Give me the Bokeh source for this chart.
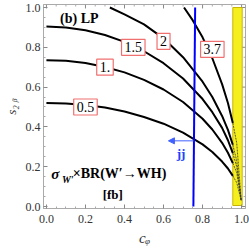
import numpy as np
from bokeh.plotting import figure
from bokeh.models import (Label, Arrow, NormalHead, Range1d, FixedTicker,
                          PrintfTickFormatter)
from bokeh.embed import file_html
from bokeh.resources import INLINE

# ---- data ----
c_grid = [0.0, 0.1, 0.2, 0.3, 0.4, 0.5, 0.6, 0.7, 0.8, 0.85, 0.9, 0.93, 0.955]
s_05 = [0.52, 0.518, 0.51, 0.497, 0.477, 0.45, 0.416, 0.371, 0.312, 0.274, 0.226, 0.191, 0.154]
s_10 = [0.735, 0.732, 0.721, 0.701, 0.674, 0.636, 0.588, 0.525, 0.441, 0.387, 0.32, 0.27, 0.218]
s_15 = [0.905, 0.9, 0.886, 0.862, 0.827, 0.78, 0.72, 0.643, 0.54, 0.474, 0.395, 0.333, 0.268]
c_20 = [0.325, 0.4, 0.5, 0.6, 0.7, 0.8, 0.85, 0.9, 0.93, 0.955]
s_20 = [1.0, 0.965, 0.915, 0.845, 0.75, 0.627, 0.55, 0.455, 0.385, 0.31]
c_37 = [0.705, 0.75, 0.8, 0.85, 0.9, 0.93, 0.955]
s_37 = [1.0, 0.935, 0.85, 0.745, 0.615, 0.52, 0.42]

# continuation inside the excluded (yellow) band
c_band = [0.955, 0.975, 0.998]
s_band_05 = [0.154, 0.12, 0.03]
s_band_10 = [0.218, 0.17, 0.03]
s_band_15 = [0.268, 0.2, 0.03]
s_band_20 = [0.31, 0.23, 0.03]
s_band_37 = [0.42, 0.32, 0.03]

# contour labels: value, c, s
label_texts = ["0.5", "1.", "1.5", "2", "3.7"]
label_c = [0.20, 0.30, 0.445, 0.60, 0.85]
label_s = [0.50, 0.70, 0.80, 0.83, 0.79]

# dijet bound (blue) and arrow
blue_c = [0.753, 0.762]
blue_s = [0.0, 1.0]
arrow_c = [0.755, 0.625]
arrow_s = 0.33

# excluded band
band_left, band_right, band_bottom, band_top = 0.955, 1.003, 0.005, 1.0

ticks = [0.0, 0.2, 0.4, 0.6, 0.8, 1.0]
minor = [0.05, 0.1, 0.15, 0.25, 0.3, 0.35, 0.45, 0.5, 0.55, 0.65, 0.7, 0.75, 0.85, 0.9, 0.95]

X0, X1 = -0.015, 1.02
Y0, Y1 = -0.01, 1.015

SERIF = "Liberation Serif"

p = figure(width=249, height=249, output_backend="svg", toolbar_location=None,
           x_range=Range1d(X0, X1), y_range=Range1d(Y0, Y1),
           min_border_left=40, min_border_right=4, min_border_top=4, min_border_bottom=41)
p.grid.visible = False
p.outline_line_color = "#aaaaaa"
p.background_fill_color = "white"
p.border_fill_color = "white"

for ax in [p.xaxis[0], p.yaxis[0]]:
    ax.ticker = FixedTicker(ticks=ticks, minor_ticks=minor)
    ax.formatter = PrintfTickFormatter(format="%.1f")
    ax.major_tick_in = 4
    ax.major_tick_out = 0
    ax.minor_tick_in = 2
    ax.minor_tick_out = 0
    ax.axis_line_color = "#aaaaaa"
    ax.major_tick_line_color = "#888888"
    ax.minor_tick_line_color = "#aaaaaa"
    ax.major_label_text_font = SERIF
    ax.major_label_text_font_size = "12px"
    ax.major_label_text_color = "#333333"
    ax.axis_label_text_font = SERIF
    ax.axis_label_text_font_style = "italic"
    ax.axis_label_text_color = "#333333"
p.xaxis[0].major_label_standoff = 6
p.yaxis[0].major_label_standoff = 3
p.xaxis[0].axis_label = "cᵩ"
p.xaxis[0].axis_label_text_font_size = "15px"
p.xaxis[0].axis_label_standoff = 4
p.yaxis[0].axis_label = "s₂ ᵦ"
p.yaxis[0].axis_label_text_font_size = "13px"
p.yaxis[0].axis_label_standoff = 4

# tick marks on the top and right frame edges (from the tick lists)
n, m = len(ticks), len(minor)
p.segment(x0=ticks, y0=[Y1] * n, x1=ticks, y1=[Y1 - 0.02] * n, line_color="#888888", line_width=1)
p.segment(x0=minor, y0=[Y1] * m, x1=minor, y1=[Y1 - 0.01] * m, line_color="#aaaaaa", line_width=1)
p.segment(x0=[X1] * n, y0=ticks, x1=[X1 - 0.02] * n, y1=ticks, line_color="#888888", line_width=1)
p.segment(x0=[X1] * m, y0=minor, x1=[X1 - 0.01] * m, y1=minor, line_color="#aaaaaa", line_width=1)

# yellow band
p.quad(left=[band_left], right=[band_right], bottom=[band_bottom], top=[band_top],
       fill_color="#f6ef1e", line_color="#c8b400", line_width=1)

# contour lines
for s in [s_05, s_10, s_15]:
    p.line(c_grid, s, line_color="black", line_width=2)
p.line(c_20, s_20, line_color="black", line_width=2)
p.line(c_37, s_37, line_color="black", line_width=2)
for s in [s_band_05, s_band_10, s_band_15, s_band_20, s_band_37]:
    p.line(c_band, s, line_color="#333333", line_width=1, line_dash="2 1", line_alpha=0.8)

# blue line and arrow
p.line(blue_c, blue_s, line_color="#0000ff", line_width=2)
p.add_layout(Arrow(x_start=arrow_c[0], y_start=arrow_s, x_end=arrow_c[1], y_end=arrow_s,
                   line_color="#4060ff", line_width=1,
                   end=NormalHead(size=6, fill_color="#4060ff", line_color="#4060ff")))
p.add_layout(Label(x=0.69, y=0.265, text="jj", text_font=SERIF, text_font_style="bold",
                   text_font_size="13px", text_color="#2040ff",
                   text_align="center", text_baseline="middle"))

# contour value labels
for t, cx, sy in zip(label_texts, label_c, label_s):
    p.add_layout(Label(x=cx, y=sy, text=t, text_font=SERIF, text_font_size="14px",
                       text_color="black", text_align="center", text_baseline="middle",
                       background_fill_color="white", border_line_color="#f07070",
                       border_line_width=1.2, padding=3))

# panel title
p.add_layout(Label(x=0.07, y=0.945, text="(b) LP", text_font=SERIF, text_font_style="bold",
                   text_font_size="14px", text_color="black", text_baseline="middle"))

# sigma x BR text
p.add_layout(Label(x=0.025, y=0.165, text="σ", text_font=SERIF, text_font_style="bold italic",
                   text_font_size="15px", text_color="black", text_baseline="middle"))
p.add_layout(Label(x=0.08, y=0.135, text="W′", text_font=SERIF, text_font_style="bold italic",
                   text_font_size="10px", text_color="black", text_baseline="middle"))
p.add_layout(Label(x=0.135, y=0.165, text="×BR(W′→WH)", text_font=SERIF, text_font_style="bold",
                   text_font_size="14px", text_color="black", text_baseline="middle"))
p.add_layout(Label(x=0.34, y=0.06, text="[fb]", text_font=SERIF, text_font_style="bold",
                   text_font_size="13px", text_color="black", text_align="center",
                   text_baseline="middle"))

open("out.html", "w").write(file_html(p, INLINE))
